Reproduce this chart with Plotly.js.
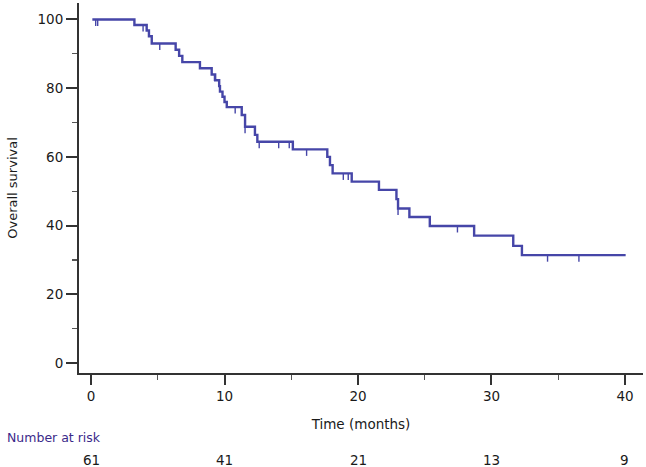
<!DOCTYPE html>
<html>
<head>
<meta charset="utf-8">
<script src="https://cdn.plot.ly/plotly-3.0.1.min.js"></script>
<style>html,body{margin:0;padding:0;background:#fff;}#chart{width:646px;height:467px;}</style>
</head>
<body>
<div id="chart"></div>
<script>
// Kaplan-Meier step points (time in months, survival %)
var stepTimes = [0.1, 3.25, 4.17, 4.34, 4.55, 6.34, 6.6, 6.84, 8.16, 9.04, 9.3, 9.6, 9.66, 9.85, 10.0, 10.17, 11.29, 11.54, 12.28, 12.46, 15.12, 17.7, 17.9, 18.1, 19.53, 21.57, 22.88, 23.0, 23.85, 25.38, 28.7, 31.63, 32.28, 40.05];
var stepSurv  = [100, 98.4, 96.8, 95.1, 93.0, 91.2, 89.4, 87.6, 85.8, 84.0, 82.3, 80.6, 79.0, 77.5, 76.0, 74.5, 72.2, 68.8, 66.4, 64.4, 62.2, 60.0, 57.6, 55.2, 52.8, 50.4, 47.7, 45.0, 42.5, 39.9, 37.1, 34.1, 31.4, 31.4];
// Censored observations
var censorTimes = [0.35, 0.5, 3.9, 5.15, 9.25, 10.8, 11.54, 12.6, 14.06, 14.85, 16.15, 18.9, 19.27, 23.0, 27.45, 34.2, 36.55];
var censorSurv  = [100, 100, 98.4, 93.0, 84.0, 74.5, 68.8, 64.4, 64.4, 64.4, 62.2, 55.2, 55.2, 45.0, 39.9, 31.4, 31.4];
// Number at risk table
var riskTimes = [0, 10, 20, 30, 40];
var riskCounts = ["61", "41", "21", "13", "9"];
var xTickVals = [0, 10, 20, 30, 40];
var yTickVals = [0, 20, 40, 60, 80, 100];

var lineColor = '#4646a8';
var axisColor = '#333333';
var font = 'DejaVu Sans, Verdana, sans-serif';

var traces = [
  {
    x: stepTimes, y: stepSurv, type: 'scatter', mode: 'lines',
    line: {shape: 'hv', color: lineColor, width: 2.4},
    hoverinfo: 'skip', showlegend: false
  },
  {
    x: censorTimes, y: censorSurv, type: 'scatter', mode: 'markers',
    marker: {size: 1, color: 'rgba(0,0,0,0)'},
    error_y: {type: 'data', symmetric: false, array: censorTimes.map(function(){return 0;}),
              arrayminus: censorTimes.map(function(){return 1.9;}),
              color: lineColor, thickness: 1.4, width: 0},
    hoverinfo: 'skip', showlegend: false
  }
];

var annotations = [{
  xref: 'paper', yref: 'paper', x: -0.131, y: -0.173, xanchor: 'left', yanchor: 'middle',
  text: 'Number at risk', showarrow: false,
  font: {family: font, size: 12.5, color: '#3b2a8a'}
}];
for (var i = 0; i < riskTimes.length; i++) {
  annotations.push({
    xref: 'x', yref: 'paper', x: riskTimes[i], y: -0.235, xanchor: 'center', yanchor: 'middle',
    text: riskCounts[i], showarrow: false,
    font: {family: font, size: 13.5, color: '#1a1a1a'}
  });
}

var layout = {
  width: 646, height: 467,
  margin: {l: 79, r: 3, t: 3, b: 94},
  paper_bgcolor: '#fff', plot_bgcolor: '#fff',
  font: {family: font, size: 13, color: '#1a1a1a'},
  xaxis: {
    range: [-0.9, 41.35], tickvals: xTickVals, ticks: 'outside', ticklen: 10, tickwidth: 2,
    tickcolor: axisColor, showline: true, linecolor: axisColor, linewidth: 2,
    showgrid: false, zeroline: false,
    minor: {tickvals: [5, 15, 25, 35], ticks: 'outside', ticklen: 5, tickwidth: 1.2, tickcolor: '#555'},
    tickfont: {family: font, size: 13.5, color: '#1a1a1a'},
    title: {text: 'Time (months)', standoff: 16, font: {family: font, size: 13.5, color: '#1a1a1a'}}
  },
  yaxis: {
    range: [-2.9, 104.8], tickvals: yTickVals, ticks: 'outside', ticklen: 11, tickwidth: 2,
    tickcolor: axisColor, showline: true, linecolor: axisColor, linewidth: 2,
    showgrid: false, zeroline: false,
    minor: {tickvals: [10, 30, 50, 70, 90], ticks: 'outside', ticklen: 5, tickwidth: 1.2, tickcolor: '#555'},
    tickfont: {family: font, size: 13.5, color: '#1a1a1a'},
    title: {text: 'Overall survival', standoff: 17, font: {family: font, size: 13, color: '#1a1a1a'}}
  },
  annotations: annotations
};

Plotly.newPlot('chart', traces, layout, {displayModeBar: false, staticPlot: true});
</script>
</body>
</html>
